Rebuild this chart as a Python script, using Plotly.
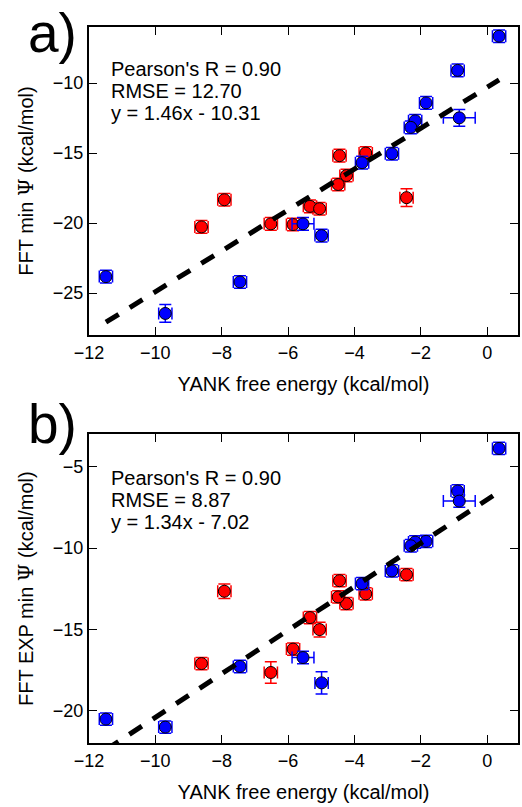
import plotly.graph_objects as go

# YANK free energies (kcal/mol), shared by both panels
yank_blue = [0.36, -0.89, -1.84, -0.84, -2.17, -2.30, -2.87, -3.77, -5.55, -4.99, -7.45, -11.49, -9.70]
yank_red = [-4.45, -3.66, -4.24, -4.49, -7.92, -2.43, -5.34, -5.05, -8.61, -6.52, -5.85]
yank_blue_err = [0.20, 0.20, 0.20, 0.48, 0.20, 0.20, 0.20, 0.20, 0.33, 0.20, 0.20, 0.20, 0.20]
yank_red_err = [0.20, 0.20, 0.20, 0.20, 0.20, 0.20, 0.20, 0.20, 0.20, 0.20, 0.20]

# Panel a: FFT min Psi
fft_blue = [-6.66, -9.10, -11.42, -12.49, -12.70, -13.17, -15.05, -15.69, -20.06, -20.90, -24.21, -23.83, -26.46]
fft_blue_err = [0.45, 0.45, 0.45, 0.60, 0.45, 0.45, 0.45, 0.45, 0.45, 0.45, 0.45, 0.45, 0.63]
fft_red = [-15.19, -15.00, -16.61, -17.25, -18.34, -18.19, -18.81, -18.98, -20.28, -20.06, -20.11]
fft_red_err = [0.45, 0.45, 0.45, 0.45, 0.45, 0.64, 0.45, 0.45, 0.45, 0.45, 0.45]

# Panel b: FFT EXP min Psi
exp_blue = [-3.87, -6.49, -9.59, -7.11, -9.63, -9.86, -11.41, -12.19, -16.74, -18.30, -17.29, -20.53, -21.02]
exp_blue_err = [0.38, 0.38, 0.38, 0.38, 0.38, 0.38, 0.38, 0.38, 0.38, 0.68, 0.38, 0.38, 0.38]
exp_red = [-12.01, -12.82, -13.42, -13.01, -12.66, -11.64, -14.28, -15.02, -17.11, -17.66, -16.22]
exp_red_err = [0.38, 0.38, 0.38, 0.38, 0.45, 0.38, 0.38, 0.45, 0.38, 0.66, 0.38]

# Regression results printed in each panel
fit_a = dict(r=0.90, rmse=12.70, slope=1.46, intercept=-10.31)
fit_b = dict(r=0.90, rmse=8.87, slope=1.34, intercept=-7.02)

x_ticks = [-12, -10, -8, -6, -4, -2, 0]
y_ticks_a = [-10, -15, -20, -25]
y_ticks_b = [-5, -10, -15, -20]

W, H = 522, 807
ML, MR, MT, MB = 89, 2, 27, 64
PW, PH = W - ML - MR, H - MT - MB
FONT = "Liberation Sans, Arial, sans-serif"
BLUE, RED = "#0000ff", "#ff0000"


def px_x(px):
    return (px - ML) / PW


def px_y(py):
    return (H - MB - py) / PH


fig = go.Figure()


def add_panel(row_axis, y_red, y_red_err, y_blue, y_blue_err, fit):
    xa, ya = ("x", "y") if row_axis == 1 else ("x2", "y2")
    for xs, ys, xe, ye, col in [
        (yank_red, y_red, yank_red_err, y_red_err, RED),
        (yank_blue, y_blue, yank_blue_err, y_blue_err, BLUE),
    ]:
        fig.add_trace(go.Scatter(
            x=xs, y=ys, mode="markers", xaxis=xa, yaxis=ya,
            marker=dict(size=12, color=col, line=dict(color="black", width=1)),
            error_x=dict(type="data", array=xe, color=col, thickness=1.5, width=6),
            error_y=dict(type="data", array=ye, color=col, thickness=1.5, width=6),
            showlegend=False, hoverinfo="skip",
        ))
    allx = yank_red + yank_blue
    lx = [min(allx), max(allx)]
    ly = [fit["slope"] * v + fit["intercept"] for v in lx]
    fig.add_trace(go.Scatter(
        x=lx, y=ly, mode="lines", xaxis=xa, yaxis=ya,
        line=dict(color="black", width=5, dash="15px,13px"),
        showlegend=False, hoverinfo="skip",
    ))


add_panel(1, fft_red, fft_red_err, fft_blue, fft_blue_err, fit_a)
add_panel(2, exp_red, exp_red_err, exp_blue, exp_blue_err, fit_b)

top_a, bot_a = 27, 335
top_b, bot_b = 434.3, 743

axis_common = dict(
    showline=True, linewidth=2, linecolor="black", mirror="allticks",
    ticks="inside", ticklen=8, tickwidth=1, tickcolor="black",
    showgrid=False, zeroline=False,
    tickfont=dict(family=FONT, size=18, color="black"),
)
TITLE_FONT = dict(family=FONT, size=20, color="black")

fig.update_layout(
    width=W, height=H,
    margin=dict(l=ML, r=MR, t=MT, b=MB),
    paper_bgcolor="white", plot_bgcolor="white",
    font=dict(family=FONT, color="black"),
    xaxis=dict(axis_common, range=[-12, 0.93], tickvals=x_ticks, anchor="y",
               domain=[0, 1],
               title=dict(text="YANK free energy (kcal/mol)", font=TITLE_FONT, standoff=15)),
    yaxis=dict(axis_common, range=[-28, -6], tickvals=y_ticks_a, anchor="x",
               domain=[px_y(bot_a), px_y(top_a)],
               title=dict(text='FFT min <span style="font-family:DejaVu Serif">Ψ</span> (kcal/mol)',
                          font=TITLE_FONT, standoff=14)),
    xaxis2=dict(axis_common, range=[-12, 0.93], tickvals=x_ticks, anchor="y2",
                domain=[0, 1],
                title=dict(text="YANK free energy (kcal/mol)", font=TITLE_FONT, standoff=15)),
    yaxis2=dict(axis_common, range=[-22, -3], tickvals=y_ticks_b, anchor="x2",
                domain=[px_y(bot_b), px_y(top_b)],
                title=dict(text='FFT EXP min <span style="font-family:DejaVu Serif">Ψ</span> (kcal/mol)',
                           font=TITLE_FONT, standoff=14)),
)


def stats_lines(f):
    return [f"Pearson's R = {f['r']:.2f}",
            f"RMSE = {f['rmse']:.2f}",
            f"y = {f['slope']:.2f}x - {abs(f['intercept']):.2f}"]


# Three stacked lines of regression statistics, 22 px apart
for fit, center_px in [(fit_a, 69), (fit_b, 478)]:
    for i, line in enumerate(stats_lines(fit)):
        fig.add_annotation(
            text=line, xref="paper", yref="paper",
            x=px_x(109), y=px_y(center_px + 22 * i), xanchor="left", yanchor="middle",
            showarrow=False, font=dict(family=FONT, size=20, color="black"),
        )

# Panel letters
for label, top_px in [("a)", 0.5), ("b)", 391)]:
    fig.add_annotation(
        text=label, xref="paper", yref="paper",
        x=px_x(26), y=px_y(top_px), xanchor="left", yanchor="top",
        showarrow=False, font=dict(family=FONT, size=55, color="black"),
    )

fig.write_html("out.html")
